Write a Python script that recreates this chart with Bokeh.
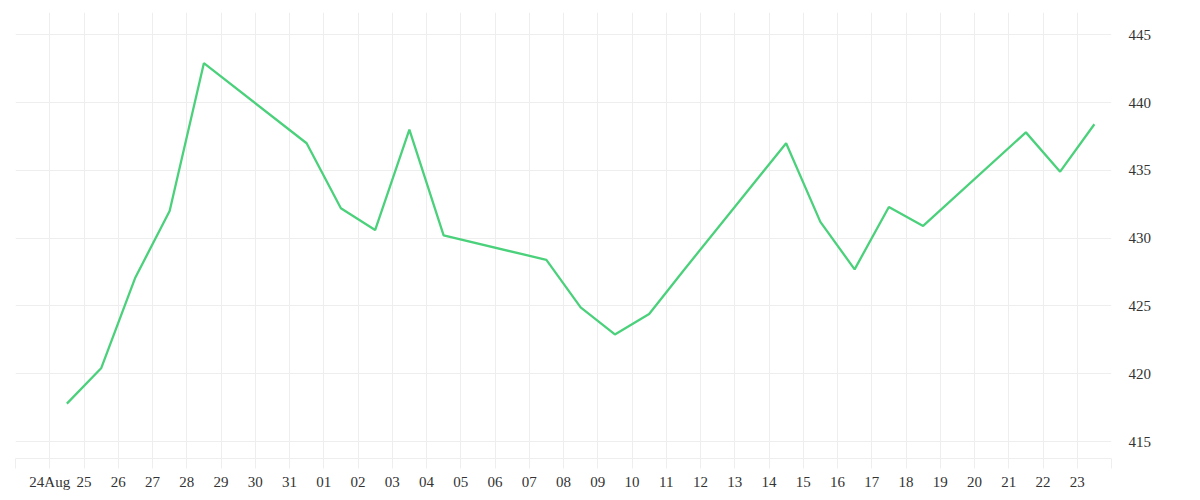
import pandas as pd
from bokeh.plotting import figure
from bokeh.models import Range1d, FixedTicker, ColumnDataSource
from bokeh.embed import file_html
from bokeh.resources import INLINE

# ---- data ----
dates = [
    "2020-08-24", "2020-08-25", "2020-08-26", "2020-08-27", "2020-08-28",
    "2020-08-31", "2020-09-01", "2020-09-02", "2020-09-03", "2020-09-04",
    "2020-09-07", "2020-09-08", "2020-09-09", "2020-09-10", "2020-09-11",
    "2020-09-14", "2020-09-15", "2020-09-16", "2020-09-17", "2020-09-18",
    "2020-09-21", "2020-09-22", "2020-09-23",
]
values = [
    417.8, 420.4, 427.1, 432.0, 442.9,
    437.0, 432.2, 430.6, 438.0, 430.2,
    428.4, 424.9, 422.9, 424.4, 427.6,
    437.0, 431.2, 427.7, 432.3, 430.9,
    437.8, 434.9, 438.4,
]
tick_days = [d.strftime("%Y-%m-%d") for d in pd.date_range("2020-08-23", "2020-09-24", freq="D")]
tick_labels = ["", "24Aug", "25", "26", "27", "28", "29", "30", "31",
               "01", "02", "03", "04", "05", "06", "07", "08", "09", "10",
               "11", "12", "13", "14", "15", "16", "17", "18", "19", "20",
               "21", "22", "23", ""]
y_ticks = [415, 420, 425, 430, 435, 440, 445]

# ---- helpers ----
def ms(d):
    return int(pd.Timestamp(d).value // 10**6)

x = pd.to_datetime(dates) + pd.Timedelta(hours=12)
source = ColumnDataSource(dict(x=x, y=values))

tick_ms = [ms(d) for d in tick_days]

p = figure(
    width=1200, height=500,
    x_axis_type="datetime", y_axis_location="right",
    x_range=Range1d(start=tick_ms[0], end=tick_ms[-1]),
    y_range=Range1d(start=413.75, end=446.64),
    output_backend="svg", toolbar_location=None,
    min_border_left=15, min_border_right=89, min_border_top=12, min_border_bottom=42,
)
p.outline_line_color = None
p.background_fill_color = "white"
p.border_fill_color = "white"

grid_color = "#eeeeee"
font = "Liberation Serif"

xa = p.xaxis[0]
xa.ticker = FixedTicker(ticks=tick_ms)
xa.major_label_overrides = {t: lab for t, lab in zip(tick_ms, tick_labels)}
xa.axis_line_color = grid_color
xa.major_tick_line_color = grid_color
xa.major_tick_out = 10
xa.major_tick_in = 0
xa.minor_tick_line_color = None
xa.major_label_standoff = 5
xa.major_label_text_font = font
xa.major_label_text_font_size = "15px"
xa.major_label_text_color = "#333333"

ya = p.yaxis[0]
ya.ticker = FixedTicker(ticks=y_ticks)
ya.axis_line_color = None
ya.major_tick_line_color = None
ya.minor_tick_line_color = None
ya.major_tick_out = 0
ya.major_tick_in = 0
ya.major_label_standoff = 17
ya.major_label_text_font = font
ya.major_label_text_font_size = "15px"
ya.major_label_text_color = "#333333"

p.xgrid.grid_line_color = grid_color
p.ygrid.grid_line_color = grid_color

p.line("x", "y", source=source, line_color="#4bd17b", line_width=2.3)

open("out.html", "w").write(file_html(p, INLINE))
